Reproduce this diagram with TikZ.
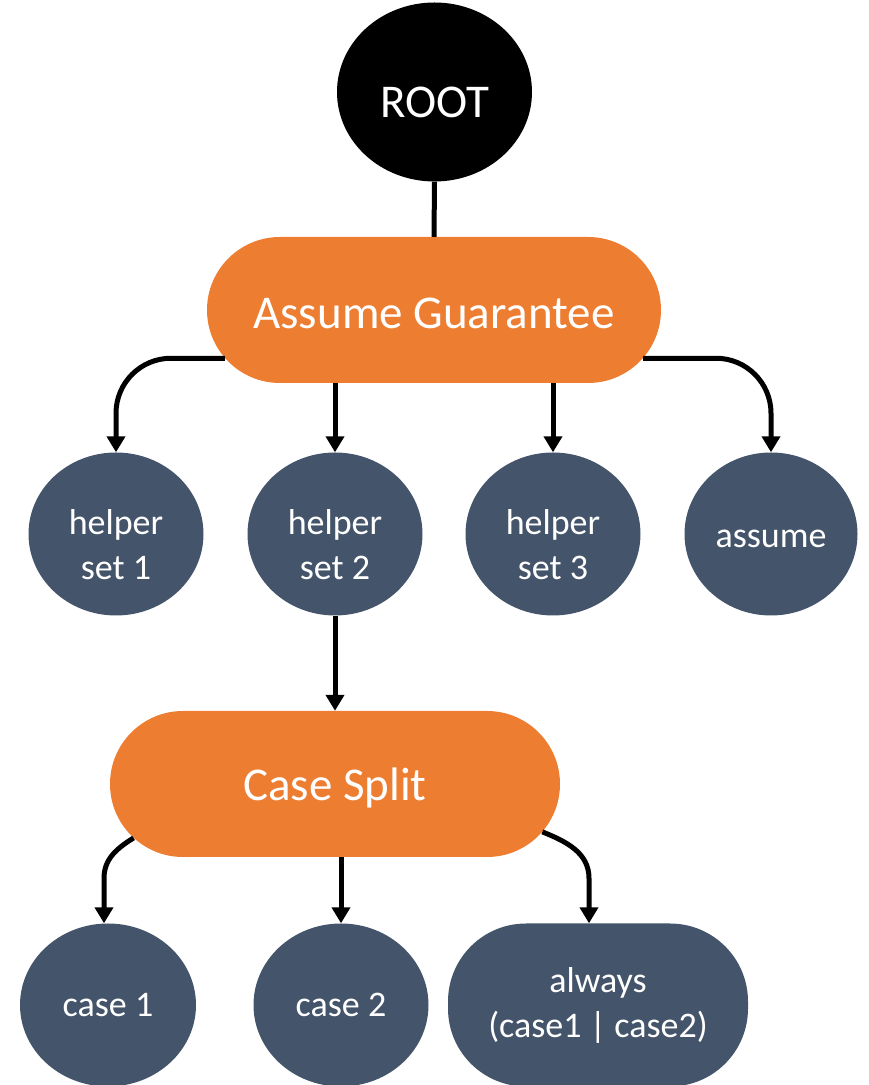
\documentclass[tikz,border=0pt]{standalone}
\usepackage{fontspec}
\setmainfont{Carlito}
\usetikzlibrary{arrows.meta,shapes.misc,shapes.geometric,calc}
\definecolor{accent}{HTML}{ED7D31}
\definecolor{slate}{HTML}{44546A}
\tikzset{
  bigtext/.style={text=white, inner sep=0pt, font=\fontsize{47}{56}\selectfont},
  smalltext/.style={text=white, inner sep=0pt, align=center, font=\fontsize{36}{45}\selectfont},
  rootnode/.style={ellipse, fill=black, minimum width=195pt, minimum height=179pt, inner sep=0pt},
  tactic/.style={rounded rectangle, fill=accent, inner sep=0pt, minimum height=146pt},
  goal/.style={ellipse, fill=slate, inner sep=0pt, minimum width=175pt, minimum height=163pt},
  goalwide/.style={rectangle, rounded corners=78pt, fill=slate, inner sep=0pt,
    minimum width=300pt, minimum height=163pt},
  link/.style={line width=5pt, draw=black},
  arrow/.style={link, -{Triangle[width=18pt,length=16pt]}},
}
\begin{document}
\begin{tikzpicture}[x=1pt,y=1pt]
\useasboundingbox (0,0) rectangle (869,1085);

% top of the tree
\node[rootnode, label={[bigtext, yshift=-10pt]center:ROOT}] (root) at (434.5,993) {};
\node[tactic, minimum width=454pt,
      label={[bigtext, yshift=-3pt]center:Assume Guarantee}] (ag) at (434,775) {};

% first level of goals
\node[goal, label={[smalltext, yshift=-11pt]center:{helper\\set 1}}] (h1) at (116,551) {};
\node[goal, label={[smalltext, yshift=-11pt]center:{helper\\set 2}}] (h2) at (335,551) {};
\node[goal, label={[smalltext, yshift=-11pt]center:{helper\\set 3}}] (h3) at (553,551) {};
\node[goal, minimum width=173pt, label={[smalltext, yshift=-5pt]center:assume}] (h4) at (771,551) {};

% case split below helper set 2
\node[tactic, minimum width=450pt,
      label={[bigtext, yshift=-4pt]center:Case Split}] (cs) at (335,301) {};

% leaves
\node[goal, minimum width=176pt, label={[smalltext]center:case 1}] (c1) at (108,80) {};
\node[goal, label={[smalltext]center:case 2}] (c2) at (341,80) {};
\node[goalwide, label={[smalltext]center:{always\\(case1 | case2)}}] (al) at (598,80) {};

% connectors
\draw[link] (root.south) -- (ag.north);

\draw[arrow, rounded corners=55pt] (ag.193.6) -| (h1.north);
\draw[arrow] (ag.south -| h2.north) -- (h2.north);
\draw[arrow] (ag.south -| h3.north) -- (h3.north);
\draw[arrow, rounded corners=55pt] (ag.-13.4) -| (h4.north);

\draw[arrow] (h2.south) -- (cs.north);

\draw[arrow] (cs.195.6) to[out=212, in=90] ($(c1.north)+(-4,45)$) -- ([xshift=-4pt]c1.north);
\draw[arrow] (cs.south -| c2.north) -- (c2.north);
\draw[arrow] (cs.-13.9) to[out=-22, in=90] ($(al.north)+(-9,45)$) -- ([xshift=-9pt]al.north);
\end{tikzpicture}
\end{document}
